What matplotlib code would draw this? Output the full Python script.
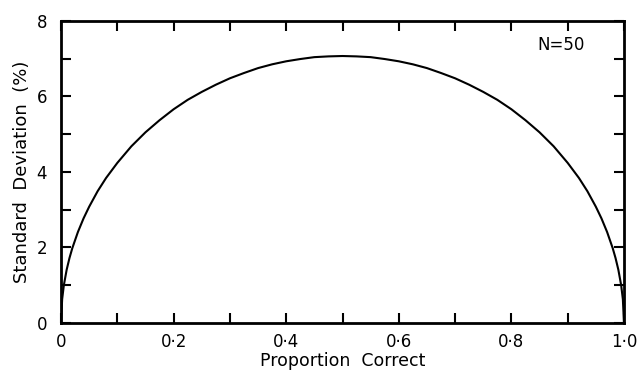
import matplotlib.pyplot as plt
from matplotlib.ticker import MultipleLocator

# values (N = 50)
proportion = [0, 0.002, 0.005, 0.01, 0.015, 0.02, 0.03, 0.04, 0.05, 0.065,
              0.08, 0.1, 0.125, 0.15, 0.175, 0.2, 0.225, 0.25, 0.275, 0.3,
              0.325, 0.35, 0.375, 0.4, 0.425, 0.45, 0.475, 0.5, 0.525, 0.55,
              0.575, 0.6, 0.625, 0.65, 0.675, 0.7, 0.725, 0.75, 0.775, 0.8,
              0.825, 0.85, 0.875, 0.9, 0.92, 0.935, 0.95, 0.96, 0.97, 0.98,
              0.985, 0.99, 0.995, 0.998, 1.0]
std_dev = [0, 0.63, 1.0, 1.41, 1.72, 1.98, 2.41, 2.77, 3.08, 3.49,
           3.84, 4.24, 4.68, 5.05, 5.37, 5.66, 5.91, 6.12, 6.31, 6.48,
           6.62, 6.75, 6.85, 6.93, 6.99, 7.04, 7.06, 7.07, 7.06, 7.04,
           6.99, 6.93, 6.85, 6.75, 6.62, 6.48, 6.31, 6.12, 5.91, 5.66,
           5.37, 5.05, 4.68, 4.24, 3.84, 3.49, 3.08, 2.77, 2.41, 1.98,
           1.72, 1.41, 1.0, 0.63, 0]
x_ticks = [0, 0.2, 0.4, 0.6, 0.8, 1.0]
x_labels = ["0", "0·2", "0·4", "0·6", "0·8", "1·0"]
y_ticks = [0, 2, 4, 6, 8]

plt.rcParams['font.family'] = ['DejaVu Sans']

fig = plt.figure(figsize=(6.39, 3.73), dpi=100)
ax = fig.add_axes([0.0955, 0.134, 0.881, 0.81])

ax.plot(proportion, std_dev, color='black', lw=1.5)

ax.set_xlim(0, 1)
ax.set_ylim(0, 8)
ax.set_xticks(x_ticks)
ax.set_xticklabels(x_labels)
ax.set_yticks(y_ticks)
ax.xaxis.set_minor_locator(MultipleLocator(0.1))
ax.yaxis.set_minor_locator(MultipleLocator(1))
ax.tick_params(which='both', direction='in', top=True, right=True,
               width=1.5, length=7, labelsize=12)
ax.tick_params(axis='x', pad=7)
ax.tick_params(axis='y', pad=10)
for s in ax.spines.values():
    s.set_linewidth(2)

ax.set_xlabel("Proportion  Correct", fontsize=12.5, labelpad=1)
ax.set_ylabel("Standard  Deviation  (%)", fontsize=13, labelpad=4)
ax.text(0.888, 7.36, "N=50", fontsize=12, ha='center', va='center')

fig.savefig("out.png", dpi=100)
